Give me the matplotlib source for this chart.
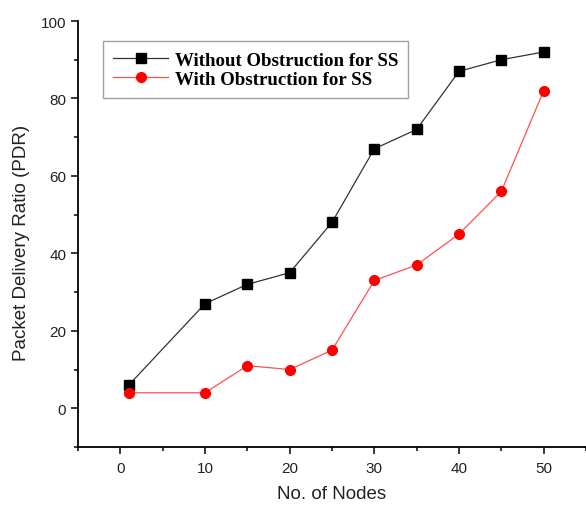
import matplotlib

matplotlib.use("Agg")
import matplotlib.pyplot as plt
from matplotlib.ticker import MultipleLocator

nodes = [1, 10, 15, 20, 25, 30, 35, 40, 45, 50]
pdr_no_obstruction = [6, 27, 32, 35, 48, 67, 72, 87, 90, 92]
pdr_obstruction = [4, 4, 11, 10, 15, 33, 37, 45, 56, 82]

plt.rcParams["font.family"] = ["Liberation Sans", "DejaVu Sans"]

fig = plt.figure(figsize=(5.86, 5.06), dpi=100)
ax = fig.add_axes([78 / 586, 58 / 506, 1 - 78 / 586, (448 - 22) / 506])

ax.plot(nodes, pdr_no_obstruction, color="#333333", linewidth=0.9,
        marker="s", markersize=6.5, markerfacecolor="black", markeredgecolor="black",
        label="Without Obstruction for SS")
ax.plot(nodes, pdr_obstruction, color="#ff5050", linewidth=0.9,
        marker="o", markersize=7, markerfacecolor="red", markeredgecolor="red",
        label="With Obstruction for SS")

ax.set_xlim(-5, 55)
ax.set_ylim(-10, 100)
ax.xaxis.set_minor_locator(MultipleLocator(5))
ax.yaxis.set_minor_locator(MultipleLocator(10))
ax.set_xticks([0, 10, 20, 30, 40, 50])
ax.set_yticks([0, 20, 40, 60, 80, 100])

for side in ["top", "right"]:
    ax.spines[side].set_visible(False)
for side in ["left", "bottom"]:
    ax.spines[side].set_linewidth(1.3)

ax.tick_params(which="major", direction="out", length=5, width=1.1,
               labelsize=11, labelcolor="#222222")
ax.tick_params(axis="x", which="major", pad=5)
ax.tick_params(which="minor", direction="out", length=3, width=1.1)

ax.set_xlabel("No. of Nodes", fontsize=13.5, color="#222222", labelpad=7)
ax.set_ylabel("Packet Delivery Ratio (PDR)", fontsize=13.5, color="#222222")
ax.yaxis.set_label_coords(-0.095, 0.481)

leg = ax.legend(loc="upper left", bbox_to_anchor=(0.049, 0.953),
                borderaxespad=0,
                prop={"family": "Liberation Serif", "weight": "bold", "size": 13.6},
                frameon=True, fancybox=False, handlelength=2.9, handletextpad=0.35,
                borderpad=0.55, labelspacing=0.1)
leg.get_frame().set_edgecolor("#888888")
leg.get_frame().set_linewidth(1.0)

fig.savefig("out.png", dpi=100)
